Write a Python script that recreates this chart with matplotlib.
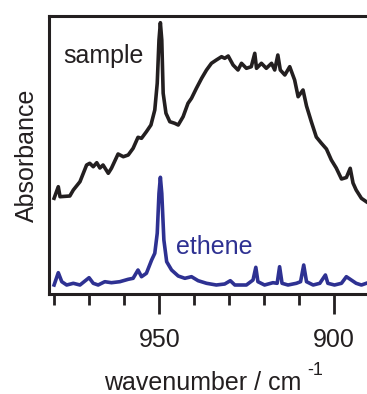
import matplotlib
matplotlib.use("Agg")
import matplotlib.pyplot as plt
import numpy as np
from matplotlib.ticker import FixedLocator, MultipleLocator

# spectra (wavenumber in cm-1, absorbance in arbitrary units)
sample_wn = [980.1, 978.9, 978.4, 975.6, 974.6, 972.7, 970.8, 969.9, 968.9, 967.9,
             967.0, 966.1, 964.6, 963.7, 961.8, 960.3, 958.9, 957.5, 956.1, 955.1,
             953.7, 952.4, 951.3, 950.6, 950.1, 949.7, 949.3, 948.9, 948.1, 947.0,
             945.6, 944.6, 943.2, 941.8, 940.8, 939.4, 937.9, 936.5, 935.1, 933.7,
             932.2, 931.3, 930.3, 928.9, 927.5, 926.5, 925.1, 923.7, 922.7, 922.2,
             920.8, 919.4, 917.9, 917.0, 916.1, 915.4, 914.1, 912.7, 911.3, 910.3,
             908.9, 907.9, 906.5, 905.1, 903.7, 902.2, 900.8, 899.4, 897.9, 896.5,
             895.4, 894.6, 893.7, 892.2, 890.8]
sample_abs = [0.957, 1.073, 0.973, 0.980, 1.040, 1.123, 1.290, 1.307, 1.273, 1.313,
              1.260, 1.290, 1.207, 1.257, 1.400, 1.373, 1.390, 1.457, 1.567, 1.557,
              1.623, 1.690, 1.840, 2.107, 2.540, 2.713, 2.540, 2.007, 1.807, 1.723,
              1.707, 1.690, 1.773, 1.907, 1.957, 2.057, 2.157, 2.240, 2.307, 2.340,
              2.373, 2.357, 2.380, 2.290, 2.240, 2.307, 2.257, 2.273, 2.407, 2.257,
              2.307, 2.257, 2.307, 2.240, 2.390, 2.240, 2.190, 2.273, 2.140, 1.973,
              2.040, 1.880, 1.720, 1.570, 1.510, 1.450, 1.340, 1.260, 1.150, 1.165,
              1.257, 1.110, 1.040, 0.957, 0.923]

ethene_wn = [980.1, 978.9, 977.9, 976.5, 974.6, 972.7, 970.1, 968.9, 967.5, 965.6,
             963.7, 961.3, 958.9, 957.5, 956.1, 955.1, 953.7, 952.2, 951.3, 950.6,
             950.1, 949.7, 949.3, 948.7, 947.9, 946.5, 944.6, 942.7, 940.8, 938.9,
             936.5, 933.7, 931.3, 929.7, 928.4, 925.1, 923.2, 922.4, 921.8, 919.9,
             917.5, 916.3, 915.6, 914.9, 913.2, 910.8, 909.6, 908.7, 907.9, 906.0,
             904.1, 902.5, 901.8, 899.9, 897.9, 896.5, 895.1, 893.7, 892.2, 890.8]
ethene_abs = [0.090, 0.213, 0.123, 0.090, 0.107, 0.090, 0.163, 0.107, 0.090, 0.123,
              0.113, 0.123, 0.147, 0.157, 0.240, 0.173, 0.207, 0.340, 0.407, 0.607,
              1.007, 1.167, 1.007, 0.540, 0.323, 0.240, 0.180, 0.157, 0.173, 0.133,
              0.107, 0.090, 0.100, 0.133, 0.090, 0.090, 0.140, 0.267, 0.123, 0.090,
              0.113, 0.107, 0.273, 0.107, 0.090, 0.107, 0.123, 0.290, 0.123, 0.090,
              0.107, 0.190, 0.107, 0.090, 0.107, 0.173, 0.140, 0.107, 0.090, 0.107]

major_ticks = [950, 900]

BLACK = "#231f20"
BLUE = "#2e3192"

plt.rcParams["font.family"] = ["Liberation Sans", "DejaVu Sans"]

W, H = 367, 394
fig = plt.figure(figsize=(W / 100, H / 100), dpi=100)
ax = fig.add_axes([48.5 / W, (H - 294) / H, (W - 48.5) / W, (294 - 15.5) / H])

ax.plot(sample_wn, sample_abs, color=BLACK, lw=2.6, solid_joinstyle="round")
ax.plot(ethene_wn, ethene_abs, color=BLUE, lw=2.6, solid_joinstyle="round")

ax.text(977.5, 2.307, "sample", color=BLACK, fontsize=18, ha="left", va="baseline")
ax.text(945.1, 0.40, "ethene", color=BLUE, fontsize=18, ha="left", va="baseline")

ax.set_xlim(981.7, 890.6)
ax.set_ylim(0, 2.785)

for side in ["left", "bottom", "top"]:
    ax.spines[side].set_linewidth(2.2)
    ax.spines[side].set_color(BLACK)
ax.spines["right"].set_visible(False)

ax.xaxis.set_major_locator(FixedLocator(major_ticks))
ax.xaxis.set_minor_locator(MultipleLocator(10))
ax.tick_params(axis="x", which="major", direction="out", length=14.4, width=2.0,
               pad=10, labelsize=18, colors=BLACK)
ax.tick_params(axis="x", which="minor", direction="out", length=7.9, width=2.0,
               colors=BLACK)
ax.set_yticks([])

fig.text(202.5 / W, 1 - 390 / H, "wavenumber / cm", fontsize=18, color=BLACK,
         ha="center", va="baseline")
fig.text(307 / W, 1 - 375 / H, "-1", fontsize=13, color=BLACK,
         ha="left", va="baseline")
fig.text(27 / W, 1 - 155 / H, "Absorbance", fontsize=18, color=BLACK,
         rotation=90, ha="center", va="center")

fig.savefig("out.png", dpi=100)
